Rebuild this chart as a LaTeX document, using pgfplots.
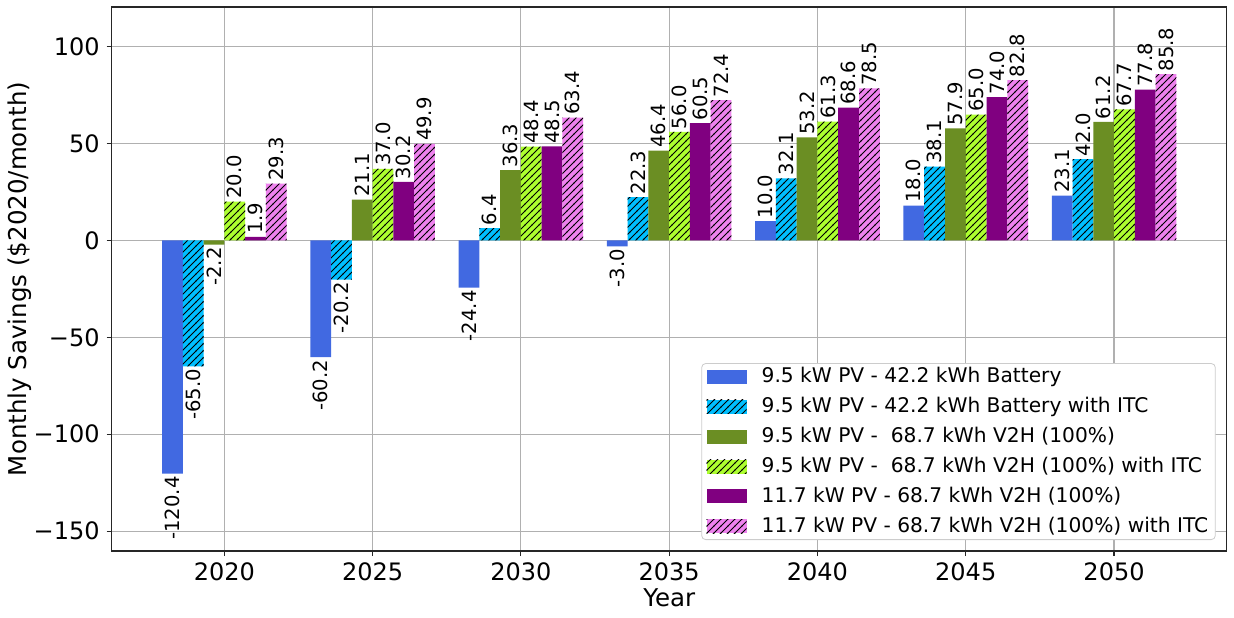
\documentclass[border=0pt]{standalone}
\usepackage{fontspec}
\setmainfont{DejaVu Sans}
\usepackage{pgfplots}
\pgfplotsset{compat=1.18}
\usetikzlibrary{patterns}

\definecolor{c1}{RGB}{65,105,225}
\definecolor{c2}{RGB}{0,191,255}
\definecolor{c3}{RGB}{107,142,35}
\definecolor{c4}{RGB}{173,255,47}
\definecolor{c5}{RGB}{128,0,128}
\definecolor{c6}{RGB}{238,130,238}
\definecolor{gridc}{RGB}{176,176,176}

% '//' hatching, lines about 2.5pt apart
\pgfdeclarepatternformonly{hatchne}{\pgfqpoint{-1pt}{-1pt}}{\pgfqpoint{4.5pt}{4.5pt}}{\pgfqpoint{3.5pt}{3.5pt}}{
    \pgfsetlinewidth{0.45pt}
    \pgfpathmoveto{\pgfqpoint{-0.2pt}{-0.2pt}}
    \pgfpathlineto{\pgfqpoint{3.7pt}{3.7pt}}
    \pgfusepath{stroke}}
\tikzset{hatch/.style={postaction={pattern=hatchne, pattern color=black}}}
% grid over the bars, legend over everything
\pgfplotsset{layers/gridtop/.define layer set={axis background,main,axis grid,axis ticks,axis lines,axis tick labels,axis foreground,axis descriptions}{}}

\begin{document}
\begin{tikzpicture}
\begin{axis}[
    name=ax, set layers=gridtop,
    scale only axis, width=557.5pt, height=272pt,
    xmin=2016.2, xmax=2053.8, ymin=-160.3, ymax=120.5,
    ybar=0pt, bar width=0.7,
    xtick={2020,2025,2030,2035,2040,2045,2050},
    xticklabels={2020,2025,2030,2035,2040,2045,2050},
    ytick={-150,-100,-50,0,50,100},
    yticklabels={−150,−100,−50,0,50,100},
    ticklabel style={font=\fontsize{12}{14}\selectfont},
    xlabel={Year}, ylabel={Monthly Savings (\$2020/month)},
    label style={font=\fontsize{12.25}{14}\selectfont},
    xlabel style={yshift=3pt},
    ylabel style={yshift=-6pt},
    grid=major, major grid style={gridc, line width=0.55pt},
    axis line style={line width=0.55pt, black!85},
    tick style={black!85, line width=0.55pt},
    tick align=outside, major tick length=2.5pt, xtick pos=bottom, ytick pos=left,
    point meta=explicit symbolic,
    visualization depends on={rawy \as \rawy},
    nodes near coords={\pgfplotspointmeta},
    every node near coord/.append style={rotate=90, font=\fontsize{9.8}{11}\selectfont,
        inner xsep=1.2pt, inner ysep=0pt, anchor={\ifdim\rawy pt<0pt east\else west\fi}},
    legend style={at={(1,0)}, anchor=south east, xshift=-5.5pt, yshift=5.5pt,
        draw=black!20, rounded corners=2pt, fill=white,
        font=\fontsize{10.1}{12}\selectfont,
        inner xsep=2.5pt, inner ysep=1pt, row sep=3.8pt,
        nodes={inner sep=1pt},
        /tikz/every odd column/.append style={column sep=6.5pt}},
    legend cell align=left,
    legend image code/.code={\draw[#1,draw=none,sharp corners] (0pt,-3.5pt) rectangle (20pt,3.5pt);},
]
% 9.5 kW PV - 42.2 kWh Battery
\addplot[fill=c1, draw=none] coordinates {
    (2020,-120.4) [-120.4] (2025,-60.2) [-60.2] (2030,-24.4) [-24.4] (2035,-3.0) [-3.0]
    (2040,10.0) [10.0] (2045,18.0) [18.0] (2050,23.1) [23.1]};
% with ITC
\addplot[fill=c2, draw=none, hatch] coordinates {
    (2020,-65.0) [-65.0] (2025,-20.2) [-20.2] (2030,6.4) [6.4] (2035,22.3) [22.3]
    (2040,32.1) [32.1] (2045,38.1) [38.1] (2050,42.0) [42.0]};
% 9.5 kW PV - 68.7 kWh V2H
\addplot[fill=c3, draw=none] coordinates {
    (2020,-2.2) [-2.2] (2025,21.1) [21.1] (2030,36.3) [36.3] (2035,46.4) [46.4]
    (2040,53.2) [53.2] (2045,57.9) [57.9] (2050,61.2) [61.2]};
\addplot[fill=c4, draw=none, hatch] coordinates {
    (2020,20.0) [20.0] (2025,37.0) [37.0] (2030,48.4) [48.4] (2035,56.0) [56.0]
    (2040,61.3) [61.3] (2045,65.0) [65.0] (2050,67.7) [67.7]};
% 11.7 kW PV - 68.7 kWh V2H
\addplot[fill=c5, draw=none] coordinates {
    (2020,1.9) [1.9] (2025,30.2) [30.2] (2030,48.5) [48.5] (2035,60.5) [60.5]
    (2040,68.6) [68.6] (2045,74.0) [74.0] (2050,77.8) [77.8]};
\addplot[fill=c6, draw=none, hatch] coordinates {
    (2020,29.3) [29.3] (2025,49.9) [49.9] (2030,63.4) [63.4] (2035,72.4) [72.4]
    (2040,78.5) [78.5] (2045,82.8) [82.8] (2050,85.8) [85.8]};
\legend{9.5 kW PV - 42.2 kWh Battery,
        9.5 kW PV - 42.2 kWh Battery with ITC,
        9.5 kW PV - \ 68.7 kWh V2H (100\%),
        9.5 kW PV - \ 68.7 kWh V2H (100\%) with ITC,
        11.7 kW PV - 68.7 kWh V2H (100\%),
        11.7 kW PV - 68.7 kWh V2H (100\%) with ITC}
\end{axis}
\pgfresetboundingbox
\path ([shift={(-55.85pt,-33pt)}]ax.south west) rectangle ([shift={(3.65pt,3.5pt)}]ax.north east);
\end{tikzpicture}
\end{document}
